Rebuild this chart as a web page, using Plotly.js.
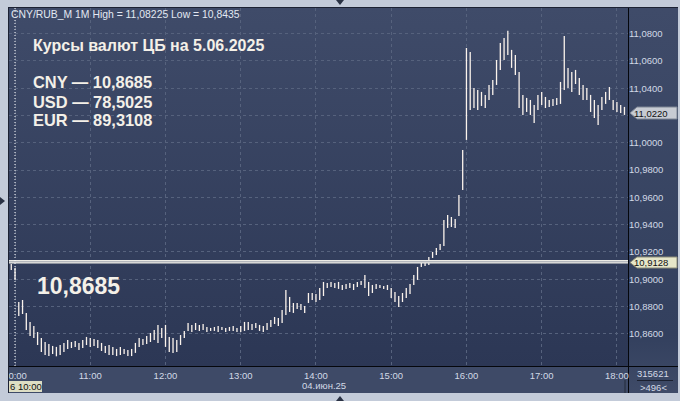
<!DOCTYPE html>
<html>
<head>
<meta charset="utf-8">
<script src="https://cdn.plot.ly/plotly-3.0.1.min.js"></script>
<style>
  html, body { margin: 0; padding: 0; background: #c3cbd9; }
  #wrap { position: relative; width: 680px; height: 401px; overflow: hidden; background: #c3cbd9; font-family: "Liberation Sans", Arial, sans-serif; }
  #plotbg { position: absolute; left: 9px; top: 8px; width: 619px; height: 358px; background: linear-gradient(#3f4b69, #2c3755); }
  #rightbg { position: absolute; left: 629px; top: 8px; width: 49px; height: 385px; background: linear-gradient(#3f4b69, #33405e 85%, #3f4b68); }
  #bottombg { position: absolute; left: 9px; top: 367px; width: 620px; height: 26px; background: #3e4a67; }
  #frameTop { position: absolute; left: 8px; top: 7px; width: 670px; height: 1px; background: #1c2233; }
  #frameLeft { position: absolute; left: 8px; top: 7px; width: 1px; height: 386px; background: #1c2233; }
  #vline { position: absolute; left: 628px; top: 8px; width: 1px; height: 385px; background: #05070c; }
  #hline { position: absolute; left: 9px; top: 366px; width: 669px; height: 1px; background: #05070c; }
  .tri { position: absolute; width: 0; height: 0; }
  #triTop { left: 336px; top: 0px; border-left: 4px solid transparent; border-right: 4px solid transparent; border-top: 5px solid #2a3244; }
  #triBot { left: 336px; top: 396px; border-left: 4px solid transparent; border-right: 4px solid transparent; border-bottom: 5px solid #2a3244; }
  #triLeft { left: 0px; top: 197px; border-top: 4px solid transparent; border-bottom: 4px solid transparent; border-left: 5px solid #2a3244; }
  #chart { position: absolute; left: 0; top: 0; width: 680px; height: 401px; }
</style>
</head>
<body>
<div id="wrap">
  <div id="plotbg"></div>
  <div id="rightbg"></div>
  <div id="bottombg"></div>
  <div id="frameTop"></div>
  <div id="frameLeft"></div>
  <div id="vline"></div>
  <div id="hline"></div>
  <div class="tri" id="triTop"></div>
  <div class="tri" id="triBot"></div>
  <div class="tri" id="triLeft"></div>
  <div id="chart"></div>
</div>
<script>
// ---- Data (CNY/RUB_M, 3-minute bars, 04.06.2025) ----
const barStart = '2025-06-04T09:57:00';
const barStepMinutes = 3;
const barHigh = [
  10.9112, 10.9083, 10.8833, 10.8848, 10.8753, 10.8687, 10.8657, 10.8613, 10.8569, 10.8540,
  10.8525, 10.8511, 10.8504, 10.8518, 10.8533, 10.8555, 10.8540, 10.8547, 10.8533, 10.8555,
  10.8577, 10.8569, 10.8562, 10.8555, 10.8533, 10.8511, 10.8518, 10.8504, 10.8489, 10.8504,
  10.8489, 10.8481, 10.8489, 10.8533, 10.8569, 10.8562, 10.8584, 10.8606, 10.8628, 10.8665,
  10.8643, 10.8665, 10.8577, 10.8569, 10.8555, 10.8591, 10.8621, 10.8679, 10.8665, 10.8679,
  10.8665, 10.8672, 10.8650, 10.8643, 10.8650, 10.8657, 10.8650, 10.8643, 10.8650, 10.8657,
  10.8643, 10.8657, 10.8687, 10.8687, 10.8672, 10.8679, 10.8665, 10.8657, 10.8679, 10.8701,
  10.8723, 10.8716, 10.8775, 10.8921, 10.8870, 10.8826, 10.8826, 10.8819, 10.8804, 10.8899,
  10.8899, 10.8892, 10.8936, 10.8980, 10.8973, 10.8980, 10.8973, 10.8980, 10.8958, 10.8965,
  10.8973, 10.8965, 10.8980, 10.8987, 10.9031, 10.8980, 10.8958, 10.8965, 10.8958, 10.8951,
  10.8958, 10.8936, 10.8907, 10.8877, 10.8899, 10.8936, 10.8965, 10.9031, 10.9090, 10.9119,
  10.9141, 10.9163, 10.9200, 10.9229, 10.9258, 10.9434, 10.9471, 10.9456, 10.9442, 10.9618,
  10.9948, 11.0695, 11.0666, 11.0402, 11.0387, 11.0373, 11.0351, 11.0424, 11.0461, 11.0607,
  11.0732, 11.0768, 11.0822, 11.0681, 11.0644, 11.0519, 11.0351, 11.0329, 11.0314, 11.0277,
  11.0351, 11.0373, 11.0336, 11.0314, 11.0321, 11.0329, 11.0446, 11.0783, 11.0549, 11.0519,
  11.0534, 11.0475, 11.0424, 11.0402, 11.0351, 11.0314, 11.0277, 11.0336, 11.0373, 11.0409,
  11.0314, 11.0299, 11.0277, 11.0263
];
const barLow = [
  10.9068, 10.8995, 10.8731, 10.8745, 10.8628, 10.8584, 10.8569, 10.8518, 10.8467, 10.8445,
  10.8437, 10.8452, 10.8435, 10.8445, 10.8467, 10.8489, 10.8496, 10.8504, 10.8481, 10.8496,
  10.8518, 10.8504, 10.8511, 10.8496, 10.8474, 10.8460, 10.8445, 10.8445, 10.8437, 10.8445,
  10.8452, 10.8437, 10.8437, 10.8460, 10.8504, 10.8518, 10.8525, 10.8540, 10.8555, 10.8533,
  10.8569, 10.8504, 10.8467, 10.8460, 10.8467, 10.8518, 10.8569, 10.8621, 10.8613, 10.8628,
  10.8621, 10.8628, 10.8613, 10.8621, 10.8621, 10.8613, 10.8628, 10.8613, 10.8621, 10.8621,
  10.8613, 10.8613, 10.8621, 10.8628, 10.8628, 10.8643, 10.8621, 10.8613, 10.8628, 10.8650,
  10.8672, 10.8657, 10.8679, 10.8738, 10.8760, 10.8753, 10.8782, 10.8775, 10.8753, 10.8826,
  10.8848, 10.8833, 10.8848, 10.8877, 10.8936, 10.8943, 10.8936, 10.8929, 10.8921, 10.8929,
  10.8936, 10.8921, 10.8943, 10.8958, 10.8936, 10.8877, 10.8899, 10.8929, 10.8936, 10.8929,
  10.8921, 10.8863, 10.8833, 10.8797, 10.8833, 10.8863, 10.8892, 10.8958, 10.8995, 10.9090,
  10.9097, 10.9105, 10.9156, 10.9178, 10.9214, 10.9244, 10.9376, 10.9383, 10.9376, 10.9464,
  10.9654, 11.0021, 11.0241, 11.0255, 11.0241, 11.0270, 11.0255, 11.0314, 11.0351, 11.0424,
  11.0534, 11.0607, 11.0644, 11.0549, 11.0497, 11.0255, 11.0204, 11.0226, 11.0204, 11.0145,
  11.0241, 11.0277, 11.0255, 11.0263, 11.0270, 11.0277, 11.0285, 11.0387, 11.0402, 11.0373,
  11.0431, 11.0351, 11.0314, 11.0314, 11.0226, 11.0182, 11.0131, 11.0241, 11.0285, 11.0314,
  11.0241, 11.0226, 11.0219, 11.0204
];
const yTickVals = [10.86, 10.88, 10.90, 10.92, 10.94, 10.96, 10.98, 11.00, 11.02, 11.04, 11.06, 11.08];
// 11,0200 is hidden under the last-price tag in the reference
const yTickText = ['10,8600', '10,8800', '10,9000', '10,9200', '10,9400', '10,9600', '10,9800', '11,0000', '', '11,0400', '11,0600', '11,0800'];
const xTickVals = ['2025-06-04 10:00', '2025-06-04 11:00', '2025-06-04 12:00', '2025-06-04 13:00',
                   '2025-06-04 14:00', '2025-06-04 15:00', '2025-06-04 16:00', '2025-06-04 17:00', '2025-06-04 18:00'];
const xTickText = ['10:00', '11:00', '12:00', '13:00', '14:00', '15:00', '16:00', '17:00', '18:00'];
const levelPrice = 10.9128;
const lastPrice = 11.0220;
const levelText = '10,9128';
const lastText = '11,0220';
const cursorTime = '2025-06-04 10:00';
const headerText = 'CNY/RUB_M 1M High = 11,08225 Low = 10,8435';
const titleText = 'Курсы валют ЦБ на 5.06.2025';
const rateLines = ['CNY — 10,8685', 'USD — 78,5025', 'EUR — 89,3108'];
const bigRate = '10,8685';
const dateLabel = '04.июн.25';
const cursorLabel = '6 10:00';
const cornerTop = '315621';
const cornerBottom = '>496<';

// ---- build ----
const t0 = new Date(barStart).getTime();
function fmt(ms) {
  const d = new Date(ms);
  const p = n => String(n).padStart(2, '0');
  return d.getFullYear() + '-' + p(d.getMonth() + 1) + '-' + p(d.getDate()) + ' ' + p(d.getHours()) + ':' + p(d.getMinutes());
}
const barTime = barHigh.map((_, i) => fmt(t0 + i * barStepMinutes * 60000));

// pixel -> paper helpers (plot area x 9..628, y 8..366)
const PX0 = 9, PW = 619, PY1 = 366, PH = 358;
const xp = px => (px - PX0) / PW;
const yp = py => (PY1 - py) / PH;

const FAM = 'Liberation Sans, Arial, sans-serif';
const lightText = '#f4f0e8';
const axisText = '#d2d9e6';

const trace = {
  type: 'ohlc',
  x: barTime,
  open: barLow,
  high: barHigh,
  low: barLow,
  close: barHigh,
  tickwidth: 0,
  increasing: { line: { color: '#fbf3ec', width: 1.3 } },
  decreasing: { line: { color: '#fbf3ec', width: 1.3 } },
  hoverinfo: 'skip',
  showlegend: false
};

function ann(text, x, y, opts) {
  return Object.assign({
    text: text, xref: 'paper', yref: 'paper', x: xp(x), y: yp(y),
    xanchor: 'left', yanchor: 'middle', showarrow: false,
    font: { family: FAM, size: 10, color: axisText }
  }, opts || {});
}
function boldFont(size) {
  return { family: FAM, size: size, color: lightText, weight: 700 };
}
function pathPx(points) {
  return 'M ' + points.map(p => xp(p[0]) + ',' + yp(p[1])).join(' L ') + ' Z';
}

const annotations = [
  ann(headerText, 9, 15, { font: { family: FAM, size: 10.4, color: '#e2e8f2' } }),
  ann(titleText, 31, 45.5, { font: boldFont(16) }),
  ann(rateLines[0], 31, 82.5, { font: boldFont(16.4) }),
  ann(rateLines[1], 31, 101.5, { font: boldFont(16.4) }),
  ann(rateLines[2], 31, 120, { font: boldFont(16.4) }),
  ann(bigRate, 35, 286, { font: boldFont(23) }),
  ann(lastText, 632, 113.5, { font: { family: FAM, size: 9.5, color: '#111111' } }),
  ann(levelText, 632, 262.5, { font: { family: FAM, size: 9.5, color: '#111111' } }),
  ann(cursorLabel, 8, 386.5, { font: { family: FAM, size: 9.5, color: '#111111' } }),
  ann(dateLabel, 300, 385, { font: { family: FAM, size: 9.5, color: axisText } }),
  ann(cornerTop, 653, 373, { xanchor: 'center', font: { family: FAM, size: 9.5, color: axisText } }),
  ann(cornerBottom, 653, 387, { xanchor: 'center', font: { family: FAM, size: 9.5, color: axisText } })
];

const shapes = [
  // level line (double white)
  { type: 'line', xref: 'paper', yref: 'y', x0: 0, x1: 1, y0: levelPrice, y1: levelPrice, line: { color: '#ecebe6', width: 3.5 }, layer: 'above' },
  { type: 'line', xref: 'paper', yref: 'y', x0: 0, x1: 1, y0: levelPrice, y1: levelPrice, line: { color: '#8d93a0', width: 0.8 }, layer: 'above' },
  // cursor dotted line
  { type: 'line', xref: 'x', yref: 'paper', x0: cursorTime, x1: cursorTime, y0: 0, y1: 1, line: { color: '#ffffff', width: 1, dash: '1px,2px' }, layer: 'above' },
  // cover left of first tick label (clipped in reference)
  { type: 'rect', xref: 'paper', yref: 'paper', x0: xp(-2), x1: xp(9), y0: yp(394), y1: yp(367), fillcolor: '#c3cbd9', line: { width: 0 }, layer: 'above' },
  { type: 'rect', xref: 'paper', yref: 'paper', x0: xp(8), x1: xp(9), y0: yp(393), y1: yp(367), fillcolor: '#1c2233', line: { width: 0 }, layer: 'above' },
  // price tags
  { type: 'path', xref: 'paper', yref: 'paper', path: pathPx([[630, 113], [637, 107], [677, 107], [677, 119], [637, 119]]), fillcolor: '#c7cbd3', line: { color: '#7d8594', width: 1 }, layer: 'above' },
  { type: 'path', xref: 'paper', yref: 'paper', path: pathPx([[630, 262.5], [637, 257], [677, 257], [677, 268], [637, 268]]), fillcolor: '#e6e6c9', line: { color: '#8c8c78', width: 1 }, layer: 'above' },
  // cursor time tag
  { type: 'rect', xref: 'paper', yref: 'paper', x0: xp(9), x1: xp(42), y0: yp(392), y1: yp(381), fillcolor: '#dedec4', line: { width: 0 }, layer: 'above' },
  // corner separator
  { type: 'line', xref: 'paper', yref: 'paper', x0: xp(637), x1: xp(673), y0: yp(380.5), y1: yp(380.5), line: { color: '#1a2030', width: 1 }, layer: 'above' },
  // end marker
  { type: 'line', xref: 'paper', yref: 'paper', x0: xp(625), x1: xp(625), y0: yp(380), y1: yp(393), line: { color: '#222a3a', width: 1 }, layer: 'above' }
];

const layout = {
  width: 680, height: 401,
  margin: { l: 9, r: 52, t: 8, b: 35, pad: 0 },
  paper_bgcolor: 'rgba(0,0,0,0)',
  plot_bgcolor: 'rgba(0,0,0,0)',
  separators: ', ',
  showlegend: false,
  font: { family: FAM, size: 9.5, color: axisText },
  xaxis: {
    type: 'date',
    range: ['2025-06-04 09:55:12', '2025-06-04 18:08:50'],
    rangeslider: { visible: false },
    tickmode: 'array', tickvals: xTickVals, ticktext: xTickText,
    ticks: 'outside', ticklen: 1, tickcolor: 'rgba(0,0,0,0)',
    tickfont: { size: 9.5, color: axisText },
    showgrid: true, gridcolor: '#56627d', griddash: '3px,3px', gridwidth: 1,
    showline: false, zeroline: false, fixedrange: true
  },
  yaxis: {
    side: 'right',
    range: [10.8364, 11.0988],
    tickmode: 'array', tickvals: yTickVals, ticktext: yTickText,
    ticks: '', ticklen: 0,
    tickfont: { size: 9.5, color: axisText },
    showgrid: true, gridcolor: '#56627d', griddash: '3px,3px', gridwidth: 1,
    showline: false, zeroline: false, fixedrange: true
  },
  annotations: annotations,
  shapes: shapes
};

Plotly.newPlot('chart', [trace], layout, { staticPlot: true, displayModeBar: false });
</script>
</body>
</html>
